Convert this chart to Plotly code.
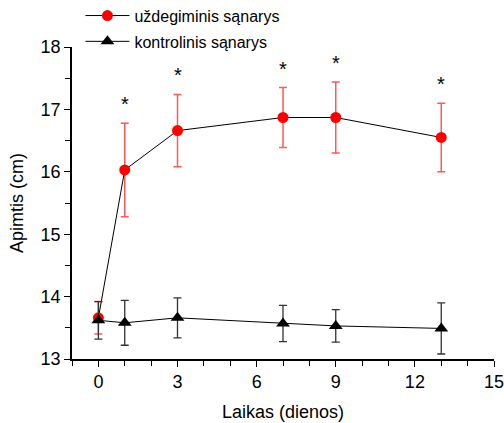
import plotly.graph_objects as go

days = [0, 1, 3, 7, 9, 13]
inflamed_mean = [13.66, 16.03, 16.66, 16.87, 16.87, 16.55]
inflamed_err = [0.26, 0.75, 0.58, 0.48, 0.57, 0.55]
control_mean = [13.62, 13.58, 13.66, 13.57, 13.53, 13.49]
control_err = [0.30, 0.36, 0.32, 0.29, 0.26, 0.41]
significant = [False, True, True, True, True, True]

series_names = ["uždegiminis sąnarys", "kontrolinis sąnarys"]
x_title = "Laikas (dienos)"
y_title = "Apimtis (cm)"
x_ticks = [0, 3, 6, 9, 12, 15]
y_ticks = [13, 14, 15, 16, 17, 18]

FONT = "Liberation Sans, Arial, sans-serif"

fig = go.Figure()
fig.add_trace(go.Scatter(
    x=days, y=inflamed_mean, name=series_names[0], mode="lines+markers",
    legendgroup="a",
    line=dict(color="black", width=1),
    marker=dict(color="#ff0000", size=11, symbol="circle"),
    error_y=dict(type="data", array=inflamed_err, visible=True,
                 color="rgba(255,60,60,0.85)", thickness=1.5, width=4),
))
fig.add_trace(go.Scatter(
    x=days, y=control_mean, name=series_names[1], mode="lines+markers",
    legendgroup="b",
    line=dict(color="black", width=1),
    marker=dict(color="black", size=12, symbol="triangle-up"),
    error_y=dict(type="data", array=control_err, visible=True,
                 color="#333333", thickness=1.3, width=4),
))

for d, m, e, s in zip(days, inflamed_mean, inflamed_err, significant):
    if s:
        fig.add_annotation(x=d, y=m + e, text="*", showarrow=False,
                           xref="x", yref="y", yanchor="bottom", yshift=6,
                           font=dict(size=20, color="black", family=FONT))

fig.update_layout(
    width=504, height=423,
    margin=dict(l=72, r=10, t=47, b=64, autoexpand=False),
    paper_bgcolor="white", plot_bgcolor="white",
    font=dict(family=FONT, size=18, color="black"),
    showlegend=True,
    legend=dict(x=0.02, y=1.155, xanchor="left", yanchor="top",
                font=dict(size=16, family=FONT), bgcolor="rgba(0,0,0,0)",
                tracegroupgap=2, itemwidth=44),
    xaxis=dict(range=[-1, 15], tickvals=x_ticks, showline=True, linecolor="black",
               linewidth=1.5, ticks="outside", ticklen=6, tickwidth=1.3,
               tickcolor="black", showgrid=False, zeroline=False,
               ticklabeloverflow="allow",
               minor=dict(dtick=1, tick0=0, ticks="outside", ticklen=5, tickwidth=1.3, tickcolor="black"),
               title=dict(text=x_title, font=dict(size=18), standoff=14),
               tickfont=dict(size=18)),
    yaxis=dict(range=[13, 18], tickvals=y_ticks, showline=True, linecolor="black",
               linewidth=1.5, ticks="outside", ticklen=6, tickwidth=1.3,
               tickcolor="black", showgrid=False, zeroline=False,
               ticklabeloverflow="allow",
               minor=dict(dtick=0.5, tick0=13, ticks="outside", ticklen=5, tickwidth=1.3, tickcolor="black"),
               title=dict(text=y_title, font=dict(size=18), standoff=12),
               tickfont=dict(size=18)),
)

fig.write_html("out.html", config={"displayModeBar": False},
               post_script="document.body.style.margin='0';document.body.style.overflow='hidden';")
